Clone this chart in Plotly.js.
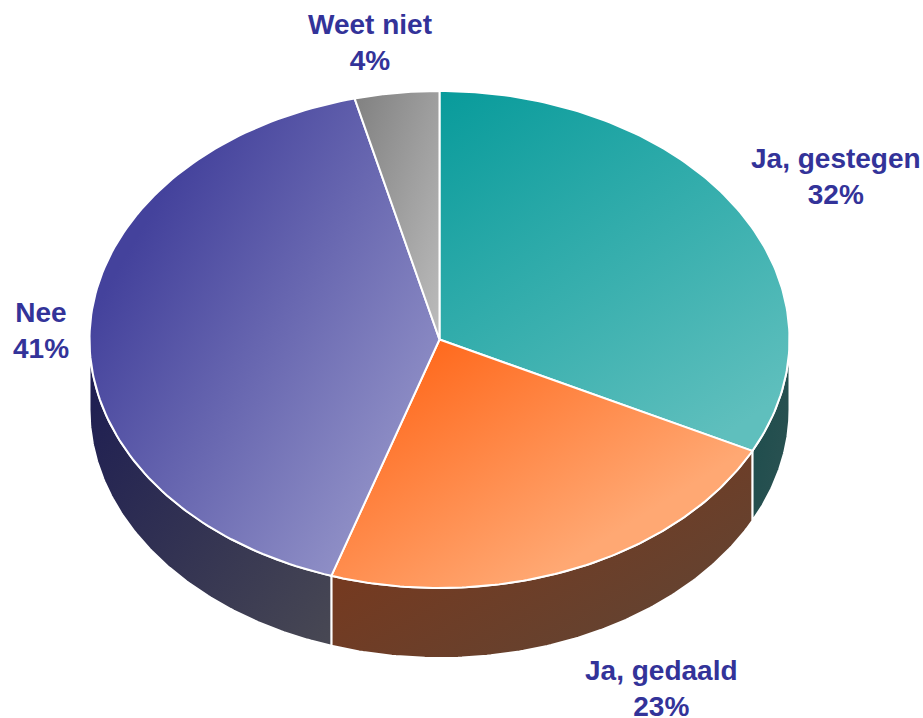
<!DOCTYPE html>
<html>
<head>
<meta charset="utf-8">
<script src="https://cdn.plot.ly/plotly-3.0.1.min.js"></script>
<style>html,body{margin:0;padding:0;background:#fff}#chart{width:923px;height:718px}</style>
</head>
<body>
<div id="chart"></div>
<script>
var categories = ["Ja, gestegen", "Ja, gedaald", "Nee", "Weet niet"];
var values = [32.4, 22.6, 41.1, 3.9];
var topStart = ["#089b9b", "#ff6a1e", "#44429c", "#808080"];
var topEnd = ["#5fbfbd", "#ffa873", "#8d8dc5", "#bcbcbc"];
var sideStart = ["#1b4c4c", "#7c3619", "#1b1b52", null];
var sideEnd = ["#2c5252", "#5f4535", "#484853", null];
var labelX = [836, 661, 41, 370];
var labelY = [176, 688, 330, 42];
// Gradient direction of each slice inside its bounding box: [x start, y start, x end, y end]
var topVector = [[0, 0, 0.665, 1.05], [0.26, 0, 0.868, 0.573], [0.223, 0.182, 0.894, 0.729], [0, 0, 1, 1]];
var sideVector = [[0, 0, 1, 1], [0.05, 0.1, 1, 0.9], [0, 0, 1, 1], null];

var W = 923, H = 718, CX = 439.5, CY = 339.5, RX = 350, RY = 248.5, DEPTH = 70;
var STEPS = 120;

function arc(a1, a2) {
  var xs = [], ys = [];
  for (var i = 0; i <= STEPS; i++) {
    var t = (a1 + (a2 - a1) * i / STEPS) * Math.PI / 180;
    xs.push(CX + RX * Math.sin(t));
    ys.push(CY - RY * Math.cos(t));
  }
  return {x: xs, y: ys};
}
var total = values.reduce(function (s, v) { return s + v; }, 0);
var sideTraces = [], topTraces = [], vectors = [], topVectors = [], cum = 0;
values.forEach(function (v, i) {
  var a1 = cum / total * 360, a2 = (cum + v) / total * 360;
  cum += v;
  var c1 = Math.max(a1, 90), c2 = Math.min(a2, 270);
  if (c2 > c1 && sideStart[i]) {
    var up = arc(c1, c2), low = arc(c2, c1);
    vectors.push(sideVector[i]);
    sideTraces.push({
      type: "scatter", mode: "lines", name: categories[i] + " side", hoverinfo: "skip",
      x: up.x.concat(low.x).concat([up.x[0]]),
      y: up.y.concat(low.y.map(function (y) { return y + DEPTH; })).concat([up.y[0]]),
      fill: "toself",
      line: {color: "#ffffff", width: 2},
      fillgradient: {type: "horizontal", colorscale: [[0, sideStart[i]], [1, sideEnd[i]]]}
    });
  }
  var p = arc(a1, a2);
  topVectors.push(topVector[i]);
  topTraces.push({
    type: "scatter", mode: "lines", name: categories[i], hoverinfo: "skip",
    x: [CX].concat(p.x).concat([CX]),
    y: [CY].concat(p.y).concat([CY]),
    fill: "toself",
    line: {color: "#ffffff", width: 2},
    fillgradient: {type: "horizontal", colorscale: [[0, topStart[i]], [1, topEnd[i]]]}
  });
});
vectors = vectors.concat(topVectors);

var annotations = categories.map(function (c, i) {
  return {
    text: c + "<br>" + Math.round(values[i]) + "%",
    xref: "x", yref: "y", x: labelX[i], y: labelY[i],
    showarrow: false, xanchor: "center", yanchor: "middle", align: "center",
    font: {family: "Liberation Sans, Arial, sans-serif", size: 28, color: "#333399", weight: "bold"}
  };
});

var layout = {
  width: W, height: H, showlegend: false, hovermode: false,
  margin: {l: 0, r: 0, t: 0, b: 0},
  paper_bgcolor: "#ffffff", plot_bgcolor: "#ffffff",
  xaxis: {range: [0, W], visible: false, fixedrange: true},
  yaxis: {range: [H, 0], visible: false, fixedrange: true},
  annotations: annotations
};

Plotly.newPlot("chart", sideTraces.concat(topTraces), layout, {displayModeBar: false}).then(function (gd) {
  // Plotly's fill gradients are axis-aligned only; the reference's run diagonally.
  gd.querySelectorAll(".scatterlayer .js-fill").forEach(function (path, n) {
    var m = /url\(["']?[^#]*#([^"')]+)/.exec(path.style.fill || path.getAttribute("fill") || "");
    if (!m) return;
    var g = document.getElementById(m[1]);
    if (!g) return;
    var v = vectors[n];
    g.setAttribute("gradientUnits", "objectBoundingBox");
    g.setAttribute("x1", v[2]); g.setAttribute("y1", v[3]);
    g.setAttribute("x2", v[0]); g.setAttribute("y2", v[1]);
  });
});
</script>
</body>
</html>
